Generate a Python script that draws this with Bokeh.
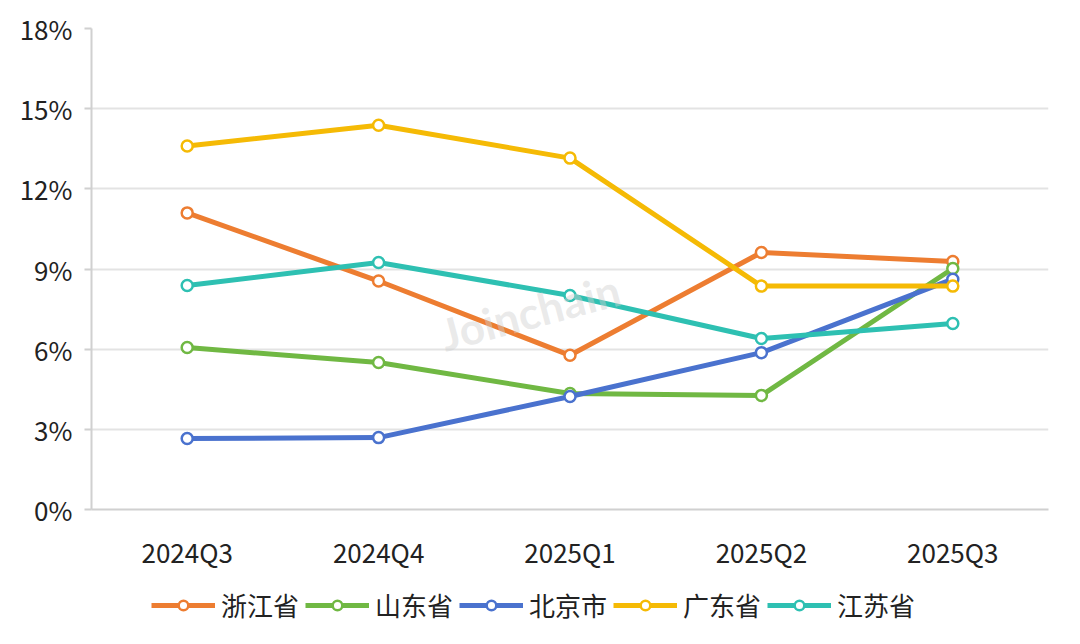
from bokeh.plotting import figure
from bokeh.layouts import column
from bokeh.models import (FactorRange, Range1d, FixedTicker, PrintfTickFormatter,
                          Legend, LegendItem, Label)
from bokeh.embed import file_html
from bokeh.resources import INLINE

quarters = ["2024Q3", "2024Q4", "2025Q1", "2025Q2", "2025Q3"]
zhejiang = [11.1, 8.55, 5.77, 9.62, 9.28]
shandong = [6.06, 5.5, 4.34, 4.27, 9.02]
beijing = [2.66, 2.69, 4.23, 5.87, 8.62]
guangdong = [13.6, 14.38, 13.15, 8.36, 8.36]
jiangsu = [8.38, 9.24, 8.01, 6.4, 6.96]
y_ticks = [0, 3, 6, 9, 12, 15, 18]

series = [
    ("浙江省", zhejiang, "#ED7D31"),
    ("山东省", shandong, "#70B843"),
    ("北京市", beijing, "#4A72CE"),
    ("广东省", guangdong, "#F5BA05"),
    ("江苏省", jiangsu, "#2EC0B2"),
]

FONT = "Noto Sans CJK SC"
LW = 5
MS = 11

p = figure(width=1072, height=574, x_range=FactorRange(*quarters),
           y_range=Range1d(0, 18), output_backend="svg", toolbar_location=None,
           min_border_left=91, min_border_right=24, min_border_top=28,
           min_border_bottom=65)
p.outline_line_color = None
p.background_fill_color = "white"

p.yaxis.ticker = FixedTicker(ticks=y_ticks)
p.yaxis.formatter = PrintfTickFormatter(format="%d%%")
p.yaxis.axis_line_color = "#D0D0D0"
p.yaxis.axis_line_width = 2
p.yaxis.major_tick_line_color = "#D0D0D0"
p.yaxis.major_tick_line_width = 2
p.yaxis.major_tick_out = 7
p.yaxis.major_tick_in = 0
p.yaxis.minor_tick_line_color = None
p.yaxis.major_label_text_font = FONT
p.yaxis.major_label_text_font_size = "26px"
p.yaxis.major_label_text_color = "#222222"
p.yaxis.major_label_standoff = 12

p.xaxis.axis_line_color = "#D0D0D0"
p.xaxis.axis_line_width = 2
p.xaxis.major_tick_line_color = None
p.xaxis.minor_tick_line_color = None
p.xaxis.major_label_text_font = FONT
p.xaxis.major_label_text_font_size = "26px"
p.xaxis.major_label_text_color = "#222222"
p.xaxis.major_label_standoff = 17

p.xgrid.grid_line_color = None
p.ygrid.grid_line_color = "#E3E3E3"
p.ygrid.grid_line_width = 2

wm = Label(x=2.5, y=7.4, x_offset=-40, text="Joinchain", angle=0.26,
           text_align="center", text_baseline="middle", text_font="Lato",
           text_font_style="bold", text_font_size="44px", text_color="#D0D0D0",
           text_alpha=0.45)
p.add_layout(wm)

for name, vals, color in series:
    p.line(quarters, vals, line_color=color, line_width=LW)
    p.scatter(quarters, vals, size=MS, fill_color="white", line_color=color,
              line_width=2.5)

# legend strip: same series, drawn outside its visible range, only the key shows
lg = figure(width=1072, height=62, x_range=p.x_range, y_range=Range1d(100, 101),
            output_backend="svg", toolbar_location=None,
            x_axis_location=None, y_axis_location=None,
            min_border_left=0, min_border_right=0, min_border_top=0,
            min_border_bottom=0)
lg.outline_line_color = None
lg.xgrid.grid_line_color = None
lg.ygrid.grid_line_color = None

items = []
for name, vals, color in series:
    ln = lg.line(quarters, vals, line_color=color, line_width=LW)
    sc = lg.scatter(quarters, vals, size=MS, fill_color="white", line_color=color,
                    line_width=2.5)
    items.append(LegendItem(label=name, renderers=[ln, sc]))

legend = Legend(items=items, orientation="horizontal", location=(60, 13),
                label_text_font=FONT, label_text_font_size="26px",
                label_text_color="#222222", glyph_width=64, glyph_height=24,
                label_standoff=6, spacing=6, border_line_color=None,
                background_fill_alpha=0, margin=0, padding=0)
lg.add_layout(legend)

layout = column(p, lg, spacing=0)
open("out.html", "w").write(file_html(layout, INLINE))
